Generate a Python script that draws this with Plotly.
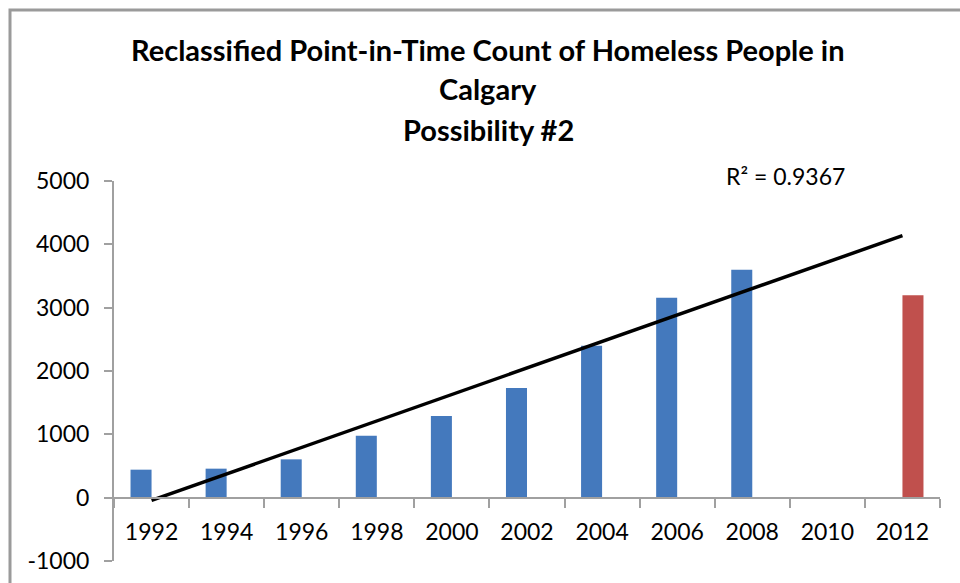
import numpy as np
import plotly.graph_objects as go

# Point-in-time counts (reclassified), by count year
years = ["1992", "1994", "1996", "1998", "2000", "2002",
         "2004", "2006", "2008", "2010", "2012"]
counts_observed = [442, 458, 605, 979, 1289, 1732, 2400, 3158, 3600, None, None]
counts_2012 = [None, None, None, None, None, None, None, None, None, None, 3195]
r_squared_label = "R² = 0.9367"

y_min, y_max, y_step = -1000, 5000, 1000
y_ticks = list(range(y_min, y_max + 1, y_step))
y_tick_text = [str(v) for v in y_ticks]

BLUE = "#4479BD"
RED = "#C0504D"
AXIS_GREY = "#A0A0A0"
FONT = "Lato"

# Linear trend fitted on category positions (1, 2, ...) and projected to the last category
idx = np.arange(1, len(years) + 1)
known = [(i, v) for i, v in zip(idx, counts_observed) if v is not None]
kx = np.array([k[0] for k in known], dtype=float)
ky = np.array([k[1] for k in known], dtype=float)
slope, intercept = np.polyfit(kx, ky, 1)
trend_x = [years[0], years[-1]]
trend_y = [slope * idx[0] + intercept, slope * idx[-1] + intercept]

fig = go.Figure()
fig.add_trace(go.Bar(x=years, y=counts_observed, marker=dict(color=BLUE, line=dict(width=0)),
                     showlegend=False, hoverinfo="x+y"))
fig.add_trace(go.Bar(x=years, y=counts_2012, marker=dict(color=RED, line=dict(width=0)),
                     showlegend=False, hoverinfo="x+y"))
fig.add_trace(go.Scatter(x=trend_x, y=trend_y, mode="lines",
                         line=dict(color="black", width=3.5), showlegend=False,
                         hoverinfo="skip"))

# Position of the category axis where y = 0
zero_pos = (0 - y_min) / (y_max - y_min)

fig.update_layout(
    width=960, height=583,
    margin=dict(l=114, r=20, t=181, b=22),
    paper_bgcolor="white", plot_bgcolor="white",
    barmode="group", bargap=0.44, bargroupgap=0,
    font=dict(family=FONT, size=23, color="black"),
    xaxis=dict(
        type="category", categoryorder="array", categoryarray=years,
        range=[-0.5, len(years) - 0.5],
        anchor="free", position=zero_pos, automargin=False,
        showline=True, linecolor=AXIS_GREY, linewidth=2,
        ticks="outside", tickson="boundaries", ticklen=9, tickwidth=2,
        tickcolor=AXIS_GREY, ticklabelstandoff=14,
        showgrid=False, zeroline=False,
        tickfont=dict(family=FONT, size=23, color="black"),
    ),
    yaxis=dict(
        range=[y_min, y_max], tickmode="array", automargin=False,
        tickvals=y_ticks, ticktext=y_tick_text,
        showline=True, linecolor=AXIS_GREY, linewidth=2,
        ticks="outside", ticklen=8, tickwidth=2, tickcolor=AXIS_GREY,
        ticklabelstandoff=10,
        showgrid=False, zeroline=False,
        tickfont=dict(family=FONT, size=23, color="black"),
    ),
    shapes=[
        # chart border
        dict(type="rect", xref="paper", yref="paper",
             x0=-104 / 826, x1=1.6, y0=-0.6, y1=(583 - 22 - 10) / 380,
             line=dict(color="#9A9A9A", width=3), fillcolor="rgba(0,0,0,0)", layer="below"),
    ],
)

title_lines = ["Reclassified Point-in-Time Count of Homeless People in", "Calgary", "Possibility #2"]
title_centres_px = [49, 89, 129]
for text, cy in zip(title_lines, title_centres_px):
    fig.add_annotation(
        text=f"<b>{text}</b>", xref="paper", yref="paper",
        x=(488 - 114) / 826, y=(583 - 22 - cy) / 380,
        xanchor="center", yanchor="middle", showarrow=False,
        font=dict(family=FONT, size=29, color="black"),
    )

fig.add_annotation(
    text=r_squared_label, xref="paper", yref="paper",
    x=(724 - 114) / 826, y=(583 - 22 - 176) / 380,
    xanchor="left", yanchor="middle", showarrow=False,
    font=dict(family=FONT, size=23, color="black"),
)

fig.write_html("out.html")
